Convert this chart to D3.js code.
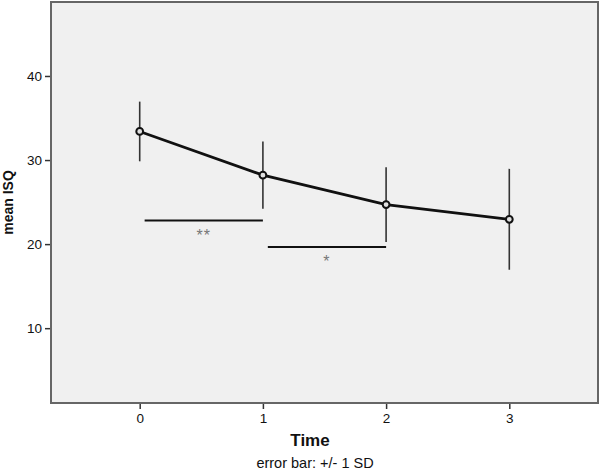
<!DOCTYPE html>
<html>
<head>
<meta charset="utf-8">
<script src="https://cdn.jsdelivr.net/npm/d3@7"></script>
<style>
  body { margin: 0; background: #fff; }
  svg { font-family: Arial, "Liberation Sans", sans-serif; }
</style>
</head>
<body>
<div id="chart"></div>
<script>
// Data
var times = [0, 1, 2, 3];
var means = [33.4, 28.2, 24.7, 22.95];
var sds = [3.55, 4.0, 4.45, 6.0];
var yTicks = [10, 20, 30, 40];

// significance brackets
var sigFrom = [0.04, 1.04];
var sigTo = [1.0, 2.0];
var sigLevel = [22.8, 19.65];
var sigLabel = ["**", "*"];

var width = 600;
var height = 473;
var margin = { top: 2, right: 2, bottom: 70, left: 51 };

var svg = d3.select("#chart")
  .append("svg")
  .attr("width", width)
  .attr("height", height);

var plotW = width - margin.left - margin.right;
var plotH = height - margin.top - margin.bottom;

var g = svg.append("g")
  .attr("transform", "translate(" + margin.left + "," + margin.top + ")");

// Scales
var x = d3.scaleLinear()
  .domain([-0.72, 3.72])
  .range([0, plotW]);

var y = d3.scaleLinear()
  .domain([1.1, 48.8])
  .range([plotH, 0]);

// Plot background
g.append("rect")
  .attr("width", plotW)
  .attr("height", plotH)
  .attr("fill", "#f0f0f0");

// Axes
var yAxis = g.append("g")
  .call(d3.axisLeft(y).tickValues(yTicks).tickSize(6).tickPadding(3));

var xAxis = g.append("g")
  .attr("transform", "translate(0," + plotH + ")")
  .call(d3.axisBottom(x).tickValues(times).tickSize(6).tickPadding(4).tickFormat(d3.format("d")));

[yAxis, xAxis].forEach(function (ax) {
  ax.attr("font-size", null).attr("font-family", null);
  ax.select(".domain").remove();
  ax.selectAll("line").attr("stroke", "#333").attr("stroke-width", 1.5);
  ax.selectAll("text")
    .attr("fill", "#111")
    .style("font-size", "13.5px");
});

// Frame
g.append("rect")
  .attr("width", plotW)
  .attr("height", plotH)
  .attr("fill", "none")
  .attr("stroke", "#666")
  .attr("stroke-width", 2);

// Error bars
g.selectAll(".err")
  .data(times)
  .enter().append("line")
  .attr("class", "err")
  .attr("x1", function (d) { return x(d); })
  .attr("x2", function (d) { return x(d); })
  .attr("y1", function (d, i) { return y(means[i] - sds[i]); })
  .attr("y2", function (d, i) { return y(means[i] + sds[i]); })
  .attr("stroke", "#333")
  .attr("stroke-width", 1.6);

// Mean line
var line = d3.line()
  .x(function (d) { return x(d); })
  .y(function (d, i) { return y(means[i]); });

g.append("path")
  .datum(times)
  .attr("d", line)
  .attr("fill", "none")
  .attr("stroke", "#111")
  .attr("stroke-width", 2.8);

// Markers
g.selectAll(".pt")
  .data(times)
  .enter().append("circle")
  .attr("class", "pt")
  .attr("cx", function (d) { return x(d); })
  .attr("cy", function (d, i) { return y(means[i]); })
  .attr("r", 3.4)
  .attr("fill", "#e0e0e0")
  .attr("stroke", "#111")
  .attr("stroke-width", 2);

// Significance brackets
g.selectAll(".sig")
  .data(sigLabel)
  .enter().append("line")
  .attr("class", "sig")
  .attr("x1", function (d, i) { return x(sigFrom[i]); })
  .attr("x2", function (d, i) { return x(sigTo[i]); })
  .attr("y1", function (d, i) { return y(sigLevel[i]); })
  .attr("y2", function (d, i) { return y(sigLevel[i]); })
  .attr("stroke", "#111")
  .attr("stroke-width", 2);

g.selectAll(".sigText")
  .data(sigLabel)
  .enter().append("text")
  .attr("class", "sigText")
  .attr("x", function (d, i) { return x((sigFrom[i] + sigTo[i]) / 2); })
  .attr("y", function (d, i) { return y(sigLevel[i]) + 20; })
  .attr("text-anchor", "middle")
  .attr("fill", "#777")
  .style("font-size", "16px")
  .style("letter-spacing", "1px")
  .text(function (d) { return d; });

// Axis titles
svg.append("text")
  .attr("transform", "rotate(-90)")
  .attr("x", -(margin.top + plotH / 2))
  .attr("y", 13)
  .attr("text-anchor", "middle")
  .style("font-size", "14px")
  .style("font-weight", "bold")
  .attr("fill", "#111")
  .text("mean ISQ");

svg.append("text")
  .attr("x", 310)
  .attr("y", 446)
  .attr("text-anchor", "middle")
  .style("font-size", "17px")
  .style("font-weight", "bold")
  .attr("fill", "#111")
  .text("Time");

svg.append("text")
  .attr("x", 315)
  .attr("y", 468)
  .attr("text-anchor", "middle")
  .style("font-size", "14.5px")
  .attr("fill", "#111")
  .text("error bar: +/- 1 SD");
</script>
</body>
</html>
